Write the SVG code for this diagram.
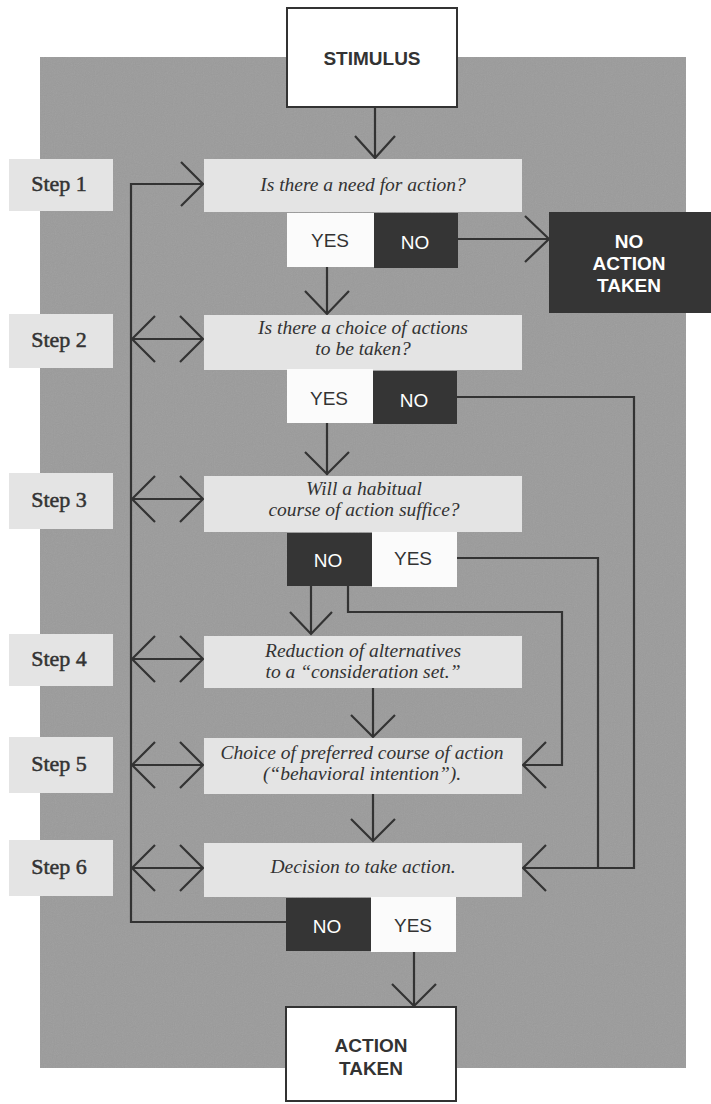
<svg xmlns="http://www.w3.org/2000/svg" width="711" height="1104" viewBox="0 0 711 1104">
<defs>
<style>
.bg{fill:#9b9b9b}
.lbl{fill:#e4e4e4}
.q{fill:#e4e4e4}
.wt{fill:#fbfbfb}
.dk{fill:#353535}
.term{fill:#ffffff;stroke:#333;stroke-width:2}
.ln{fill:none;stroke:#333;stroke-width:2.2;stroke-linejoin:miter}
.step{font-family:"Liberation Serif",serif;font-size:22px;fill:#333;stroke:#333;stroke-width:0.5;text-anchor:middle}
.qt{font-family:"Liberation Serif",serif;font-size:19.5px;font-style:italic;fill:#333;text-anchor:middle}
.yn{font-family:"Liberation Sans",Arial,sans-serif;font-size:19px;text-anchor:middle}
.yd{fill:#333}
.yw{fill:#ffffff}
.tt{font-family:"Liberation Sans",Arial,sans-serif;font-size:19px;font-weight:bold;text-anchor:middle}
</style>
<filter id="grain" x="0" y="0" width="100%" height="100%">
<feTurbulence type="fractalNoise" baseFrequency="0.9" numOctaves="2" seed="3"/>
<feColorMatrix type="saturate" values="0"/>
</filter>
</defs>

<g id="background">
<rect class="bg" x="40" y="57" width="646" height="1011"/>
<rect x="40" y="57" width="646" height="1011" filter="url(#grain)" opacity="0.12"/>
</g>

<g id="connectors">
<line class="ln" x1="375" y1="107" x2="375" y2="158"/>
<polyline class="ln" points="355,136 375,158 395,136"/>
<line class="ln" x1="458" y1="239" x2="549" y2="239"/>
<polyline class="ln" points="525,216 549,239 525,262"/>
<line class="ln" x1="327" y1="267" x2="327" y2="314"/>
<polyline class="ln" points="305,291 327,314 349,291"/>
<line class="ln" x1="327" y1="423" x2="327" y2="475"/>
<polyline class="ln" points="305,452 327,474 349,452"/>
<polyline class="ln" points="457,397 634,397 634,868 523,868"/>
<polyline class="ln" points="546,845 523,868 546,891"/>
<polyline class="ln" points="457,558 598,558 598,868"/>
<line class="ln" x1="311" y1="586" x2="311" y2="634"/>
<polyline class="ln" points="290,612 311,634 332,612"/>
<polyline class="ln" points="348,586 348,612 562,612 562,765 523,765"/>
<polyline class="ln" points="546,742 523,765 546,788"/>
<line class="ln" x1="373" y1="688" x2="373" y2="737"/>
<polyline class="ln" points="351,715 373,737 395,715"/>
<line class="ln" x1="373" y1="794" x2="373" y2="841"/>
<polyline class="ln" points="351,819 373,841 395,819"/>
<line class="ln" x1="414" y1="952" x2="414" y2="1006"/>
<polyline class="ln" points="392,984 414,1006 436,984"/>
<polyline class="ln" points="286,922 131,922 131,184 203,184"/>
<polyline class="ln" points="181,162 203,184 181,206"/>
<line class="ln" x1="131" y1="339" x2="203" y2="339"/>
<polyline class="ln" points="155,316 132,339 155,362"/>
<polyline class="ln" points="180,316 203,339 180,362"/>
<line class="ln" x1="131" y1="499" x2="203" y2="499"/>
<polyline class="ln" points="155,476 132,499 155,522"/>
<polyline class="ln" points="180,476 203,499 180,522"/>
<line class="ln" x1="131" y1="659" x2="203" y2="659"/>
<polyline class="ln" points="155,636 132,659 155,682"/>
<polyline class="ln" points="180,636 203,659 180,682"/>
<line class="ln" x1="131" y1="765" x2="203" y2="765"/>
<polyline class="ln" points="155,742 132,765 155,788"/>
<polyline class="ln" points="180,742 203,765 180,788"/>
<line class="ln" x1="131" y1="868" x2="203" y2="868"/>
<polyline class="ln" points="155,845 132,868 155,891"/>
<polyline class="ln" points="180,845 203,868 180,891"/>
</g>

<g id="stimulus">
<rect class="term" x="287" y="8" width="170" height="99"/>
<text class="tt yd" x="372" y="65">STIMULUS</text>
</g>

<g id="step1-label"><rect class="lbl" x="9" y="159" width="104" height="52"/><text class="step" x="59" y="191">Step 1</text></g>
<g id="step2-label"><rect class="lbl" x="9" y="314" width="104" height="54"/><text class="step" x="59" y="347">Step 2</text></g>
<g id="step3-label"><rect class="lbl" x="9" y="473" width="104" height="56"/><text class="step" x="59" y="507">Step 3</text></g>
<g id="step4-label"><rect class="lbl" x="9" y="634" width="104" height="52"/><text class="step" x="59" y="666">Step 4</text></g>
<g id="step5-label"><rect class="lbl" x="9" y="737" width="104" height="56"/><text class="step" x="59" y="771">Step 5</text></g>
<g id="step6-label"><rect class="lbl" x="9" y="840" width="104" height="56"/><text class="step" x="59" y="874">Step 6</text></g>

<g id="step1">
<rect class="q" x="204" y="159" width="318" height="53"/>
<text class="qt" x="363" y="191">Is there a need for action?</text>
</g>
<g id="step1-yes"><rect class="wt" x="287" y="213" width="87" height="54"/><text class="yn yd" x="330" y="247">YES</text></g>
<g id="step1-no"><rect class="dk" x="374" y="213" width="84" height="55"/><text class="yn yw" x="415" y="249">NO</text></g>
<g id="no-action-taken">
<rect class="dk" x="549" y="212" width="162" height="101"/>
<text class="tt yw" x="629" y="248">NO</text>
<text class="tt yw" x="629" y="270">ACTION</text>
<text class="tt yw" x="629" y="292">TAKEN</text>
</g>

<g id="step2">
<rect class="q" x="204" y="315" width="318" height="55"/>
<text class="qt" x="363" y="334">Is there a choice of actions</text>
<text class="qt" x="363" y="355">to be taken?</text>
</g>
<g id="step2-yes"><rect class="wt" x="287" y="369" width="86" height="54"/><text class="yn yd" x="329" y="405">YES</text></g>
<g id="step2-no"><rect class="dk" x="373" y="371" width="84" height="53"/><text class="yn yw" x="414" y="407">NO</text></g>

<g id="step3">
<rect class="q" x="204" y="476" width="318" height="56"/>
<text class="qt" x="364" y="495">Will a habitual</text>
<text class="qt" x="364" y="516">course of action suffice?</text>
</g>
<g id="step3-no"><rect class="dk" x="287" y="533" width="85" height="53"/><text class="yn yw" x="328" y="567">NO</text></g>
<g id="step3-yes"><rect class="wt" x="372" y="532" width="85" height="55"/><text class="yn yd" x="413" y="565">YES</text></g>

<g id="step4">
<rect class="q" x="204" y="636" width="318" height="52"/>
<text class="qt" x="363" y="657">Reduction of alternatives</text>
<text class="qt" x="363" y="678">to a “consideration set.”</text>
</g>

<g id="step5">
<rect class="q" x="204" y="738" width="318" height="56"/>
<text class="qt" x="362" y="759">Choice of preferred course of action</text>
<text class="qt" x="362" y="780">(“behavioral intention”).</text>
</g>

<g id="step6">
<rect class="q" x="204" y="843" width="318" height="54"/>
<text class="qt" x="363" y="873">Decision to take action.</text>
</g>
<g id="step6-no"><rect class="dk" x="286" y="898" width="85" height="53"/><text class="yn yw" x="327" y="933">NO</text></g>
<g id="step6-yes"><rect class="wt" x="371" y="897" width="85" height="55"/><text class="yn yd" x="413" y="932">YES</text></g>

<g id="action-taken">
<rect class="term" x="286" y="1007" width="170" height="94"/>
<text class="tt yd" x="371" y="1052">ACTION</text>
<text class="tt yd" x="371" y="1075">TAKEN</text>
</g>
</svg>
